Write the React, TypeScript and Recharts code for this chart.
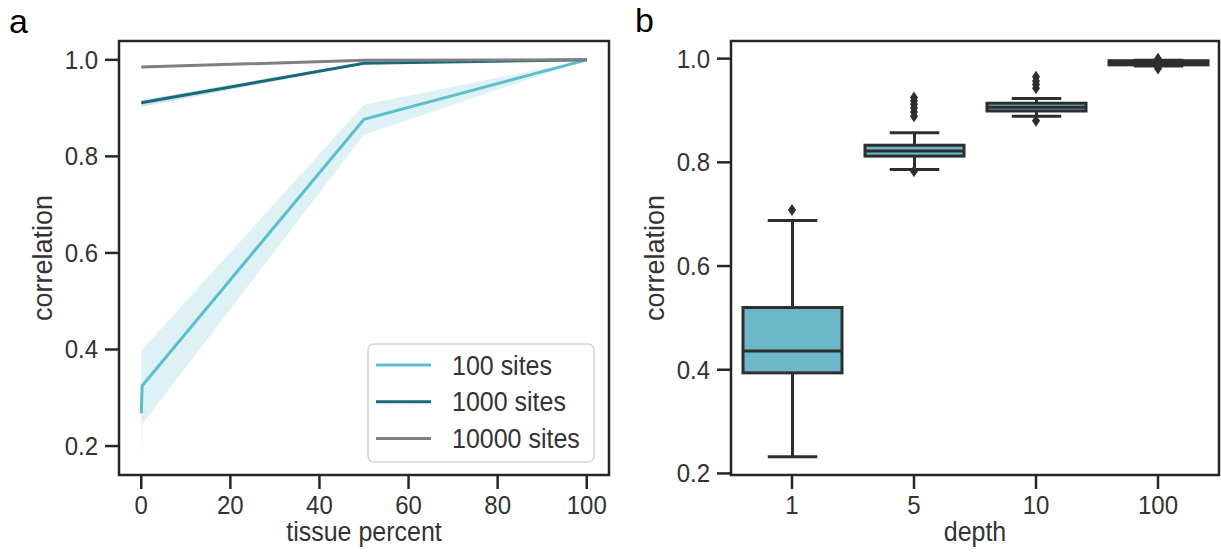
import React from 'react';
import { ComposedChart, Line, Area, XAxis, YAxis, Legend, ReferenceArea, Bar, Scatter, Label } from 'recharts';

const FONT = '"Liberation Sans", Arial, Helvetica, sans-serif';
const INK = '#262626';
const TXT = '#333333';

// ---------- panel a data ----------
const tissuePercent100 = [0, 0.2, 50, 100];
const sites100Mean = [0.268, 0.325, 0.877, 1.0];
const sites100Lo = [0.177, 0.245, 0.845, 1.0];
const sites100Hi = [0.40, 0.40, 0.907, 1.0];

const tissuePercent = [0, 50, 100];
const sites1000Mean = [0.911, 0.993, 1.0];
const sites1000Lo = [0.903, 0.991, 1.0];
const sites1000Hi = [0.917, 0.995, 1.0];
const sites10000Mean = [0.985, 0.999, 1.0];
const sites10000Lo = [0.983, 0.998, 1.0];
const sites10000Hi = [0.987, 1.0, 1.0];

const seriesNames = ['100 sites', '1000 sites', '10000 sites'];
const seriesColors = ['#5bbdcd', '#17697d', '#7f7f7f'];
const xTicksA = [0, 20, 40, 60, 80, 100];
const yTicks = [0.2, 0.4, 0.6, 0.8, 1.0];

// ---------- panel b data ----------
const depthCats = ['1', '5', '10', '100'];
const whiskerLow = [0.232, 0.786, 0.889, 0.986];
const q1 = [0.394, 0.812, 0.899, 0.988];
const median = [0.436, 0.822, 0.906, 0.992];
const q3 = [0.520, 0.833, 0.914, 0.996];
const whiskerHigh = [0.688, 0.857, 0.923, 0.997];
const outlierDepth = ['1', '5', '5', '5', '5', '5', '5', '5', '10', '10', '10', '10', '10', '100', '100', '100', '100', '100'];
const outlierValue = [0.708, 0.889, 0.897, 0.905, 0.912, 0.919, 0.925, 0.783, 0.943, 0.950, 0.957, 0.965, 0.880, 0.981, 0.986, 0.991, 0.996, 1.0];
const boxColor = '#6bb8c8';

const build = (xs: number[], m: number[], lo: number[], hi: number[]) =>
  xs.map((x, i) => ({ x, mean: m[i], band: [lo[i], hi[i]] }));

const dataA = [
  build(tissuePercent100, sites100Mean, sites100Lo, sites100Hi),
  build(tissuePercent, sites1000Mean, sites1000Lo, sites1000Hi),
  build(tissuePercent, sites10000Mean, sites10000Lo, sites10000Hi),
];

const boxData = depthCats.map((d, i) => ({
  depth: d,
  range: [whiskerLow[i], whiskerHigh[i]],
  lo: whiskerLow[i],
  q1: q1[i],
  med: median[i],
  q3: q3[i],
  hi: whiskerHigh[i],
}));
const outlierData = outlierDepth.map((d, i) => ({ depth: d, v: outlierValue[i] }));

const STRETCH = 1.07;

const makeTick = (mode: 'x' | 'y', fmt: (v: any) => string) => (props: any) => {
  const { x, y, payload } = props;
  const by = mode === 'x' ? y + 20 : y + 9;
  return (
    <text
      transform={`translate(${x},${by}) scale(1,${STRETCH})`}
      textAnchor={mode === 'x' ? 'middle' : 'end'}
      fontSize={24}
      fill={TXT}
      fontFamily={FONT}
    >
      {fmt(payload.value)}
    </text>
  );
};
const fmtY = (v: number) => Number(v).toFixed(1);
const fmtX = (v: any) => String(v);

const BoxShape = (props: any) => {
  const { x, y, width, height, payload } = props;
  const top = Math.min(y, y + height);
  const h = Math.abs(height);
  const { lo, hi } = payload;
  const py = (v: number) => (hi === lo ? top : top + (h * (hi - v)) / (hi - lo));
  const cx = x + width / 2;
  const cap = width / 4;
  const sw = 3;
  return (
    <g stroke="#2e2e2e" strokeWidth={sw} fill="none">
      <line x1={cx} x2={cx} y1={py(payload.hi)} y2={py(payload.q3)} />
      <line x1={cx} x2={cx} y1={py(payload.q1)} y2={py(payload.lo)} />
      <line x1={cx - cap} x2={cx + cap} y1={py(payload.hi)} y2={py(payload.hi)} />
      <line x1={cx - cap} x2={cx + cap} y1={py(payload.lo)} y2={py(payload.lo)} />
      <rect x={x} y={py(payload.q3)} width={width} height={Math.max(py(payload.q1) - py(payload.q3), 0.5)} fill={boxColor} />
      <line x1={x} x2={x + width} y1={py(payload.med)} y2={py(payload.med)} />
    </g>
  );
};

const Diamond = (p: any) => (
  <path
    d={`M${p.cx},${p.cy - 6} L${p.cx + 4},${p.cy} L${p.cx},${p.cy + 6} L${p.cx - 4},${p.cy} Z`}
    fill="#2e2e2e"
  />
);

const LegendBox = (props: any) => {
  const items = (props.payload || []).filter((e: any) => e.type !== 'none');
  return (
    <svg width={228} height={120} style={{ display: 'block' }}>
      <rect x={1} y={1} width={226} height={118} rx={6} ry={6} fill="rgba(255,255,255,0.85)" stroke="#d4d4d4" strokeWidth={1.5} />
      {items.map((e: any, i: number) => {
        const cy = 22 + i * 36.7;
        return (
          <g key={e.value}>
            <line x1={9} x2={64} y1={cy} y2={cy} stroke={e.color} strokeWidth={3} />
            <text transform={`translate(85,${cy + 9.5}) scale(1,${STRETCH})`} fontSize={25} fill={TXT} fontFamily={FONT}>{e.value}</text>
          </g>
        );
      })}
    </svg>
  );
};

const YTitle = (dx: number) => (props: any) => {
  const vb = props.viewBox;
  const x = vb.x + dx;
  const y = vb.y + vb.height / 2;
  return (
    <text x={x} y={y} transform={`rotate(-90, ${x}, ${y})`} textAnchor="middle" fontSize={27} fill={TXT} fontFamily={FONT}>
      correlation
    </text>
  );
};

const XTitle = (text: string) => (props: any) => {
  const vb = props.viewBox;
  return (
    <text
      transform={`translate(${vb.x + vb.width / 2},${vb.y + 66}) scale(1,${STRETCH})`}
      textAnchor="middle"
      fontSize={25}
      fill={TXT}
      fontFamily={FONT}
    >
      {text}
    </text>
  );
};

export default function App() {
  return (
    <div style={{ position: 'absolute', left: 0, top: 0, width: 1221, height: 554, background: '#fff', fontFamily: FONT }}>
      <div style={{ position: 'absolute', left: 0, top: 0 }}>
        <ComposedChart width={620} height={554} margin={{ top: 41, right: 11, bottom: 19, left: 0 }}>
          <XAxis
            type="number"
            dataKey="x"
            domain={[-5, 105]}
            ticks={xTicksA}
            allowDataOverflow
            height={60}
            axisLine={false}
            tickSize={14}
            tickMargin={5}
            tickLine={{ stroke: INK, strokeWidth: 2.5 }}
            tick={makeTick('x', fmtX)}
          >
            <Label content={XTitle('tissue percent')} />
          </XAxis>
          <YAxis
            type="number"
            domain={[0.14, 1.039]}
            ticks={yTicks}
            allowDataOverflow
            width={119}
            axisLine={false}
            tickSize={14}
            tickMargin={7}
            tickLine={{ stroke: INK, strokeWidth: 2.5 }}
            tick={makeTick('y', fmtY)}
          >
            <Label content={YTitle(52)} />
          </YAxis>
          {dataA.map((d, i) => (
            <Area
              key={'band' + i}
              data={d}
              dataKey="band"
              type="linear"
              stroke="none"
              fill={seriesColors[i]}
              fillOpacity={0.2}
              legendType="none"
              isAnimationActive={false}
              activeDot={false}
            />
          ))}
          {dataA.map((d, i) => (
            <Line
              key={'line' + i}
              data={d}
              dataKey="mean"
              name={seriesNames[i]}
              type="linear"
              stroke={seriesColors[i]}
              strokeWidth={3}
              dot={false}
              activeDot={false}
              isAnimationActive={false}
            />
          ))}
          <ReferenceArea x1={-5} x2={105} y1={0.14} y2={1.039} fill="none" stroke={INK} strokeWidth={2.5} ifOverflow="visible" />
          <Legend
            layout="horizontal"
            verticalAlign="middle"
            align="center"
            content={LegendBox}
            wrapperStyle={{ position: 'absolute', left: 367, top: 343, width: 228, height: 120 }}
          />
        </ComposedChart>
      </div>
      <div style={{ position: 'absolute', left: 620, top: 0 }}>
        <ComposedChart width={601} height={554} data={boxData} margin={{ top: 41, right: 2, bottom: 19, left: 0 }}>
          <XAxis
            type="category"
            dataKey="depth"
            allowDuplicatedCategory={false}
            height={60}
            axisLine={false}
            tickSize={14}
            tickMargin={5}
            tickLine={{ stroke: INK, strokeWidth: 2.5 }}
            tick={makeTick('x', fmtX)}
          >
            <Label content={XTitle('depth')} />
          </XAxis>
          <YAxis
            type="number"
            domain={[0.197, 1.034]}
            ticks={yTicks}
            allowDataOverflow
            width={111}
            axisLine={false}
            tickSize={14}
            tickMargin={7}
            tickLine={{ stroke: INK, strokeWidth: 2.5 }}
            tick={makeTick('y', fmtY)}
          >
            <Label content={YTitle(44)} />
          </YAxis>
          <Bar dataKey="range" barSize={99} shape={BoxShape} isAnimationActive={false} />
          <Scatter data={outlierData} dataKey="v" shape={Diamond} isAnimationActive={false} />
          <ReferenceArea y1={0.197} y2={1.034} fill="none" stroke={INK} strokeWidth={2.5} ifOverflow="visible" />
        </ComposedChart>
      </div>
      <svg width={1221} height={60} style={{ position: 'absolute', left: 0, top: 0, pointerEvents: 'none' }}>
        <text x={9} y={33} fontSize={34} fill="#000" fontFamily={FONT}>a</text>
        <text x={635} y={32} fontSize={34} fill="#000" fontFamily={FONT}>b</text>
      </svg>
    </div>
  );
}
